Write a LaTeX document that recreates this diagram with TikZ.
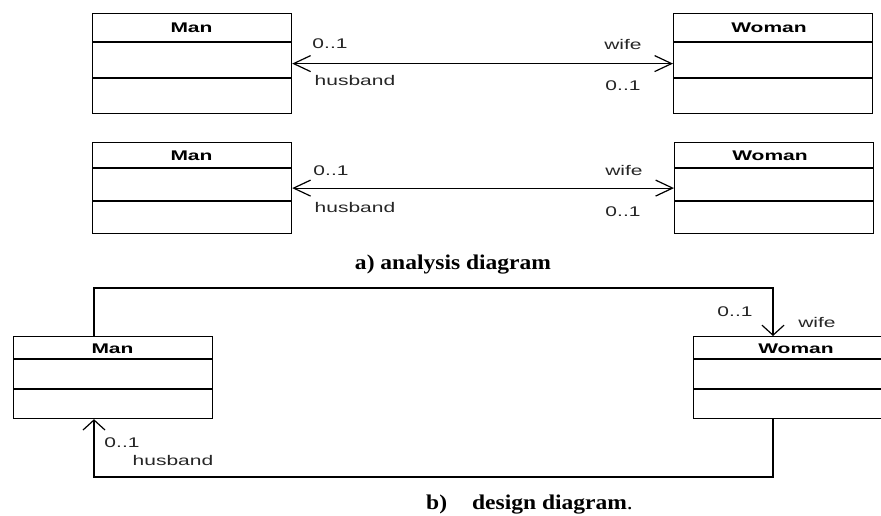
\documentclass[tikz,border=0pt]{standalone}
\usepackage{fontspec}
\usetikzlibrary{arrows.meta}
\newfontfamily\diagfont[FakeStretch=1.5]{Liberation Sans}
\newfontfamily\capfont[FakeStretch=1.12]{Liberation Serif}
\begin{document}
\begin{tikzpicture}[x=1pt,y=-1pt,
  cls/.style={draw=black, line width=1.2pt, fill=white, inner sep=0pt, minimum width=199pt, anchor=north west},
  title/.style={font=\diagfont\fontsize{14}{16}\selectfont\bfseries, text=black, inner sep=0pt},
  lbl/.style={font=\diagfont\fontsize{14}{16}\selectfont, text=black!85, inner sep=0pt},
  captxt/.style={font=\capfont\fontsize{21}{24}\selectfont\bfseries, text=black, inner sep=0pt},
  assoc/.style={line width=1.2pt, {Straight Barb[length=17pt,width=16pt]}-{Straight Barb[length=17pt,width=16pt]}},
  vtip/.style={line width=1.2pt, -{Straight Barb[length=10pt,width=22pt]}},
  divline/.style={line width=1.2pt}
]
\useasboundingbox (0,0) rectangle (881,516);
\clip (0,0) rectangle (881,516);
\fill[white] (0,0) rectangle (881,516);

% ---------- analysis diagram, first pair ----------
\node[cls, minimum height=100pt] (man1) at (92,13) {};
\node[title] (man1t) at (191.5,28) {Man};
\draw[divline] (man1.west |- 0,42) -- (man1.east |- 0,42);
\draw[divline] (man1.west |- 0,78) -- (man1.east |- 0,78);

\node[cls, minimum height=100pt] (wom1) at (673,13) {};
\node[title] (wom1t) at (769,28) {Woman};
\draw[divline] (wom1.west |- 0,42) -- (wom1.east |- 0,42);
\draw[divline] (wom1.west |- 0,78) -- (wom1.east |- 0,78);

\draw[assoc] (man1.east) -- (wom1.west);
\node[lbl] (l1a) at (330,44) {0..1};
\node[lbl] (l1b) at (355,80) {husband};
\node[lbl] (l1c) at (623,44) {wife};
\node[lbl] (l1d) at (623,86) {0..1};

% ---------- analysis diagram, second pair ----------
\node[cls, minimum height=91pt] (man2) at (92,142) {};
\node[title] (man2t) at (191.5,156) {Man};
\draw[divline] (man2.west |- 0,168) -- (man2.east |- 0,168);
\draw[divline] (man2.west |- 0,201) -- (man2.east |- 0,201);

\node[cls, minimum height=91pt] (wom2) at (674,142) {};
\node[title] (wom2t) at (770,156) {Woman};
\draw[divline] (wom2.west |- 0,168) -- (wom2.east |- 0,168);
\draw[divline] (wom2.west |- 0,201) -- (wom2.east |- 0,201);

\draw[assoc] (man2.east) -- (wom2.west);
\node[lbl] (l2a) at (331,171) {0..1};
\node[lbl] (l2b) at (355,207) {husband};
\node[lbl] (l2c) at (624,170) {wife};
\node[lbl] (l2d) at (623,212) {0..1};

\node[captxt, anchor=base] (capa) at (453,269) {a) analysis diagram};

% ---------- design diagram ----------
\node[cls, minimum height=82pt] (man3) at (13,336) {};
\node[title] (man3t) at (112.5,349) {Man};
\draw[divline] (man3.west |- 0,359) -- (man3.east |- 0,359);
\draw[divline] (man3.west |- 0,389) -- (man3.east |- 0,389);

\node[cls, minimum height=82pt, minimum width=205pt] (wom3) at (693,336) {};
\node[title] (wom3t) at (796,349) {Woman};
\draw[divline] (wom3.west |- 0,359) -- (wom3.east |- 0,359);
\draw[divline] (wom3.west |- 0,389) -- (wom3.east |- 0,389);

\coordinate (c1) at (94,288);
\coordinate (c2) at (773,288);
\coordinate (c3) at (773,477);
\coordinate (c4) at (94,477);

\draw[vtip] (man3.north -| c1) -- (c1) -- (c2) -- (wom3.north -| c2);
\draw[vtip] (wom3.south -| c3) -- (c3) -- (c4) -- (man3.south -| c4);

\node[lbl] (l3a) at (735,312) {0..1};
\node[lbl] (l3b) at (817,322) {wife};
\node[lbl] (l3c) at (122,443) {0..1};
\node[lbl] (l3d) at (173,460) {husband};

\node[captxt, anchor=base west] (capb) at (426,509) {b)\hspace{25pt}design diagram\textmd{.}};
\end{tikzpicture}
\end{document}
